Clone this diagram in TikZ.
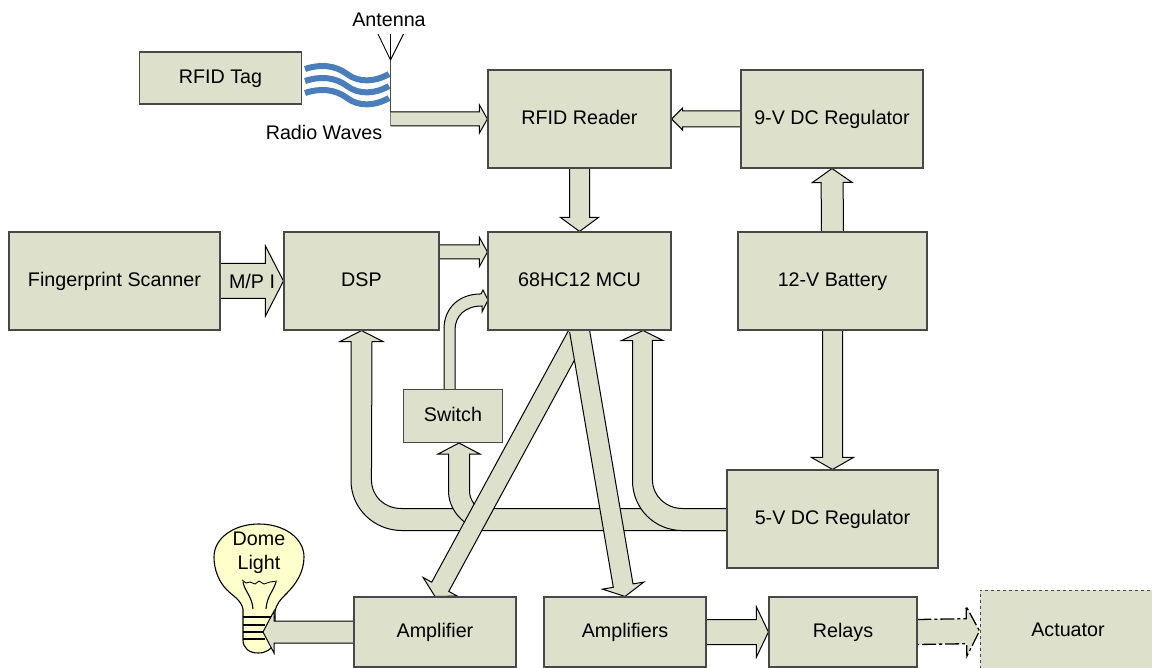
\documentclass[tikz,border=0pt]{standalone}
\usepackage{fontspec}
\setmainfont{Liberation Sans}
\usetikzlibrary{calc}
\definecolor{boxfill}{HTML}{DDE0CB}
\definecolor{boxline}{HTML}{484848}
\definecolor{wave}{HTML}{4A7EBB}
\definecolor{bulbfill}{HTML}{FFFFCC}
\pgfdeclarelayer{under}
\pgfsetlayers{under,main}
\tikzset{
  blockbox/.style={draw=boxline,fill=boxfill,line width=1.1pt,inner sep=0pt,text=black,
    text height=14pt,text depth=2.5pt,font=\fontsize{19.7}{23}\selectfont},
  plainlabel/.style={inner sep=0pt,text=black,font=\fontsize{19.7}{24}\selectfont},
  arrowbody/.style={draw=black,fill=boxfill,line width=1pt,line join=miter},
  wavestroke/.style={draw=wave,line width=6pt},
  bulbline/.style={draw=black,line width=1.1pt},
}
% [options]{start}{end}{half width}{half head width}{head length}
\newcommand\blockarrow[6][]{%
  \coordinate (baS) at #2;
  \coordinate (baE) at #3;
  \coordinate (baB) at ($(baE)!#6pt!(baS)$);
  \path[arrowbody,#1] ($(baS)!#4pt!90:(baE)$) -- ($(baB)!#4pt!90:(baE)$) -- ($(baB)!#5pt!90:(baE)$)
    -- (baE) -- ($(baB)!#5pt!-90:(baE)$) -- ($(baB)!#4pt!-90:(baE)$) -- ($(baS)!#4pt!-90:(baE)$);
}
\begin{document}
\begin{tikzpicture}[x=1pt,y=-1pt]
\useasboundingbox (0,0) rectangle (1152,668);
\clip (0,0) rectangle (1152,668);

% blocks
\node[blockbox,minimum width=162pt,minimum height=52pt] (tag) at (220.5,78) {RFID Tag};
\node[blockbox,minimum width=183pt,minimum height=98pt] (reader) at (579.5,119) {RFID Reader};
\node[blockbox,minimum width=182pt,minimum height=98pt] (reg9) at (832,119) {9-V DC Regulator};
\node[blockbox,minimum width=211pt,minimum height=98pt] (scan) at (114.5,281) {Fingerprint Scanner};
\node[blockbox,minimum width=155pt,minimum height=98pt] (dsp) at (361.5,281) {DSP};
\node[blockbox,minimum width=183pt,minimum height=98pt] (mcu) at (579.5,281) {68HC12 MCU};
\node[blockbox,minimum width=189pt,minimum height=98pt] (batt) at (832.5,281) {12-V Battery};
\node[blockbox,minimum width=99pt,minimum height=53pt] (switch) at (453,416) {Switch};
\node[blockbox,minimum width=211pt,minimum height=98pt] (reg5) at (832.5,519) {5-V DC Regulator};
\node[blockbox,minimum width=162pt,minimum height=70pt] (amp) at (435,632) {Amplifier};
\node[blockbox,minimum width=162pt,minimum height=70pt] (amps) at (625,632) {Amplifiers};
\node[blockbox,minimum width=148pt,minimum height=70pt] (relays) at (843,632) {Relays};
\node[blockbox,dashed,line width=1pt,minimum width=176pt,minimum height=82pt] (act) at (1068,631) {Actuator};

% free labels
\node[plainlabel] (antlabel) at (389,20) {Antenna};
\node[plainlabel] (radiolabel) at (324,132) {Radio Waves};
\node[plainlabel] (mpi) at (252,281) {M/P I};

% named free ends
\coordinate (antfeed) at (390.5,119);
\coordinate (bulbin) at (263,632);

\begin{pgfonlayer}{under}
  % radio waves
  \foreach \dy [count=\i] in {0,12,24}{
    \draw[wavestroke] (305,69+\dy) .. controls (320,64+\dy) and (335,65+\dy) .. (347,74+\dy)
      .. controls (359,83+\dy) and (375,82+\dy) .. (389,74+\dy);
  }
  % antenna
  \draw[draw=boxline,line width=1.5pt] (390.5,60) -- (antfeed) -- ++(0,7);
  \draw[draw=black,line width=0.9pt] (390.5,60) -- (378,34) (390.5,60) -- (403.5,34) (390.5,60) -- (390.5,34);

  % light bulb
  \path[bulbline,fill=bulbfill] (243,617) -- (243,609) .. controls (241,600) and (233,596) .. (227,590)
    .. controls (219,582) and (214,570) .. (214,557)
    .. controls (214,538) and (234,524) .. (259,524)
    .. controls (284,524) and (304,538) .. (304,557)
    .. controls (304,572) and (296,584) .. (287,593)
    .. controls (281,599) and (276,604) .. (275,612)
    -- (275,640) .. controls (272,650) and (266,653) .. (258,653)
    .. controls (249,653) and (243,648) .. (243,640) -- cycle;
  \draw[bulbline] (243,617) -- (275,617) (243,625) -- (265,625) (243,632) -- (265,632) (243,639) -- (265,639);
  \draw[draw=black,line width=0.9pt] (242,580) -- (246,583) -- (250,582) -- (255,584) -- (259,581)
    -- (264,584) -- (270,582) -- (277,581);
  \draw[bulbline] (243,582) .. controls (245,592) and (252,596) .. (253,609);
  \draw[bulbline] (276,582) .. controls (273,592) and (267,596) .. (266,609);

  % straight block arrows
  \blockarrow{(antfeed)}{(reader.west)}{7}{14}{8}
  \blockarrow{(reg9.west)}{(reader.east)}{8}{11}{11}
  \blockarrow{(reader.south)}{(mcu.north)}{10}{19}{14}
  \blockarrow{(batt.north)}{(reg9.south)}{11}{20}{14}
  \blockarrow{(batt.south)}{(reg5.north)}{10}{21}{12}
  \blockarrow{(scan.east)}{(dsp.west)}{17.5}{35}{18}
  \blockarrow{($(dsp.east)+(0,-29)$)}{($(mcu.west)+(0,-29)$)}{7}{14.5}{8}
  \blockarrow{(amps.east)}{(relays.west)}{12.5}{25}{12}
  \blockarrow[line width=1.3pt,dash pattern=on 14pt off 3pt on 3pt off 3pt]{(relays.east)}{(act.west)}{12.5}{25}{13}

  % 5-V regulator to DSP
  \path[arrowbody] ($(reg5.west)+(0,-10.5)$) -- ++(-325,0)
    .. controls ++(-17,0) and ++(0,17) .. ++(-30,-29)
    -- ($(dsp.south)+(10.5,11)$) -- ++(11,0) -- (dsp.south) -- ++(-21.5,11) -- ++(11,0)
    -- ++(0,139) .. controls ++(0,28) and ++(-28,0) .. ++(51,50) -- ++(325,0);
  % 5-V regulator to switch
  \path[arrowbody] ($(switch.south)+(6,0)$) -- ++(21,11) -- ++(-10.5,0) -- ++(0,37)
    .. controls ++(0,5) and ++(-2,-3) .. ++(4,12) -- ++(6,10) -- ++(-8,16) -- ++(-7,-7)
    .. controls ++(-9,-7) and ++(0,13) .. ++(-16,-31) -- ++(0,-37) -- ++(-10.5,0) -- cycle;
  % 5-V regulator to MCU
  \path[arrowbody] ($(reg5.west)+(0,-10.5)$) -- ++(-44,0)
    .. controls ++(-16,0) and ++(0,17) .. ++(-30,-29) -- ++(0,-139) -- ++(10.5,0)
    -- ($(mcu.south)+(63.5,0)$) -- ++(-21.5,10) -- ++(11,0) -- ++(0,140)
    .. controls ++(0,28) and ++(-28,0) .. ++(50,50) -- ++(44,0);
  % switch to MCU
  \path[arrowbody] ($(switch.north)+(-9,0)$) -- ++(0,-60)
    .. controls ++(0,-20) and ++(-23,0) .. ++(37,-35) -- ++(2,-4)
    -- (488,300) -- (482,312) -- (482,306)
    .. controls (465,306) and (455,316) .. (455,330) -- (455,390);

  % diagonal arrows from the MCU
  \blockarrow{(mcu.south)}{(amp.north)}{9.7}{19.5}{11}
  \blockarrow{(mcu.south)}{(amps.north)}{10}{21}{11}
  % bulb feed
  \blockarrow{(amp.west)}{(bulbin)}{11}{21}{11}
\end{pgfonlayer}

\node[plainlabel,align=center] (dome) at (259,553) {Dome\\Light};
\end{tikzpicture}
\end{document}
